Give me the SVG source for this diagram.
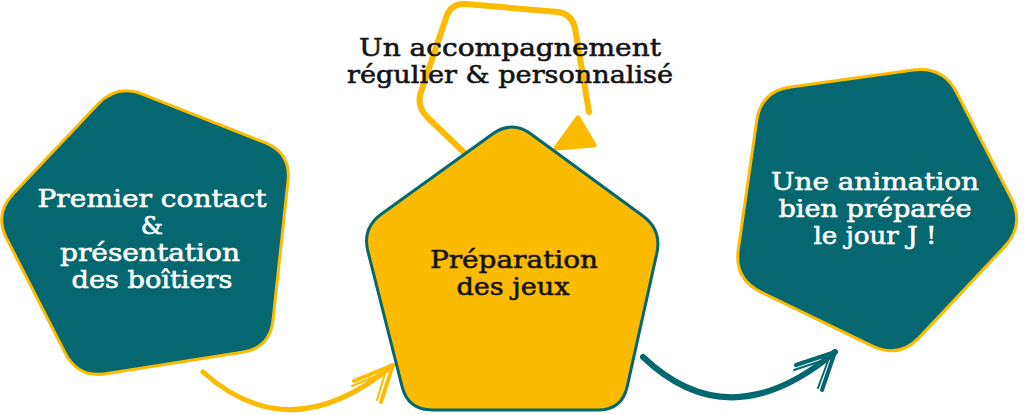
<svg xmlns="http://www.w3.org/2000/svg" width="1024" height="415" viewBox="0 0 1024 415">
  <style>
    .lbl { font-family: "DejaVu Serif", "Liberation Serif", serif; font-size: 25px; text-anchor: middle; stroke-width: 0.6px; }
    .dark { fill: #141414; stroke: #141414; }
    .light { fill: #ffffff; stroke: #ffffff; }
    .teal { fill: #05676f; stroke: #fdbb00; stroke-width: 3; }
    .gold { fill: #fdbb00; stroke: #05676f; stroke-width: 3; }
    .yl { fill: none; stroke: #fdbb00; stroke-linecap: round; stroke-linejoin: round; }
    .tl { fill: none; stroke: #05676f; stroke-linecap: round; stroke-linejoin: round; }
  </style>
  <rect width="1024" height="415" fill="#ffffff"/>

  <g id="connectors">
    <!-- loop on "Préparation des jeux" -->
    <path class="yl" stroke-width="6" d="M 470,158 L 428,118 Q 416,106 421,92 L 447,15 Q 452,3 466,4 L 558,12 Q 572,14 575,28 L 589,112"/>
    <polygon points="556,148 578,118 594,145" fill="#fdbb00" stroke="#fdbb00" stroke-width="5" stroke-linejoin="round"/>
    <!-- left to center -->
    <path class="yl" stroke-width="5" d="M 203,372 Q 290,450 392,366"/>
    <path class="yl" stroke-width="4" d="M 354,381 L 393,365 L 381,402"/>
    <path class="yl" stroke-width="2" d="M 352,386 L 388,371 M 386,370 L 377,400"/>
    <!-- center to right -->
    <path class="tl" stroke-width="6" d="M 643,357 Q 730,440 835,352"/>
    <path class="tl" stroke-width="4" d="M 796,365 L 835,352 L 822,390"/>
    <path class="tl" stroke-width="2" d="M 794,370 L 830,358 M 829,358 L 818,388"/>
  </g>

  <g id="label-accompagnement">
    <text class="lbl dark" x="510" y="56" textLength="302" lengthAdjust="spacingAndGlyphs">Un accompagnement</text>
    <text class="lbl dark" x="510" y="83" textLength="326" lengthAdjust="spacingAndGlyphs">régulier &amp; personnalisé</text>
  </g>

  <g id="node-premier-contact">
    <path class="teal" d="M 143,94.3 L 265,142.7 Q 291,153 288,180.8 L 273,320.2 Q 270,348 242.3,352.3 L 105.7,373.7 Q 78,378 65.2,353.1 L 6.8,238.9 Q -6,214 13.2,193.7 L 97.8,104.3 Q 117,84 143,94.3 Z"/>
    <text class="lbl light" x="152" y="207" textLength="229" lengthAdjust="spacingAndGlyphs">Premier contact</text>
    <text class="lbl light" x="152" y="234">&amp;</text>
    <text class="lbl light" x="150" y="261" textLength="180" lengthAdjust="spacingAndGlyphs">présentation</text>
    <text class="lbl light" x="152" y="288" textLength="161" lengthAdjust="spacingAndGlyphs">des boîtiers</text>
  </g>

  <g id="node-preparation">
    <path class="gold" d="M 531.3,134.2 L 642.7,215.8 Q 662,230 656.8,253.4 L 627.2,386.6 Q 622,410 598,410 L 432,410 Q 408,410 402.1,386.7 L 367.9,251.3 Q 362,228 381.5,214 L 492.5,134 Q 512,120 531.3,134.2 Z"/>
    <text class="lbl dark" x="514" y="268" textLength="168" lengthAdjust="spacingAndGlyphs">Préparation</text>
    <text class="lbl dark" x="513" y="295" textLength="113" lengthAdjust="spacingAndGlyphs">des jeux</text>
  </g>

  <g id="node-animation">
    <path class="teal" d="M 790.7,86.9 L 913.3,70.1 Q 943,66 956.8,92.7 L 1011.2,198.3 Q 1025,225 1004.4,246.9 L 919.6,337.1 Q 899,359 872,345.9 L 761,292.1 Q 734,279 738.3,249.3 L 756.7,120.7 Q 761,91 790.7,86.9 Z"/>
    <text class="lbl light" x="875" y="190" textLength="208" lengthAdjust="spacingAndGlyphs">Une animation</text>
    <text class="lbl light" x="875" y="217" textLength="193" lengthAdjust="spacingAndGlyphs">bien préparée</text>
    <text class="lbl light" x="875" y="244" textLength="123" lengthAdjust="spacingAndGlyphs">le jour J !</text>
  </g>
</svg>
